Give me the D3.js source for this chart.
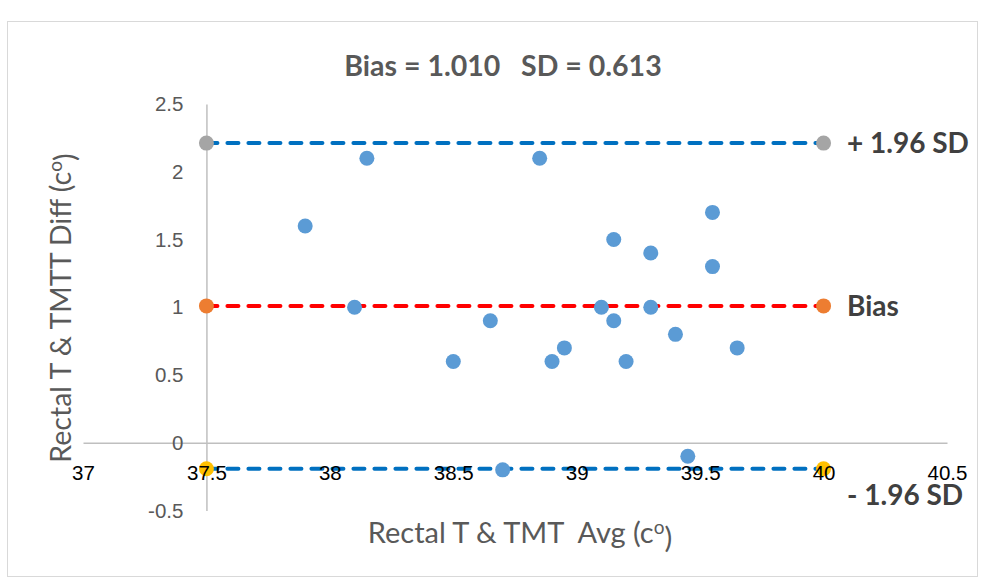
<!DOCTYPE html>
<html lang="en">
<head>
<meta charset="utf-8">
<title>Bland-Altman</title>
<script src="https://d3js.org/d3.v7.min.js"></script>
<style>
  body { margin: 0; background: #fff; }
  svg { font-family: Lato, "Open Sans", sans-serif; }
  .ticks text { fill: #595959; }
</style>
</head>
<body>
<div id="viz"></div>
<script>
// data
var avgT  = [37.9, 38.15, 38.85, 38.1, 38.65, 38.5, 38.9, 38.95, 39.15, 39.3,
             39.55, 39.55, 39.1, 39.3, 39.15, 39.2, 39.4, 39.65, 38.7, 39.45];
var diffT = [1.6, 2.1, 2.1, 1.0, 0.9, 0.6, 0.6, 0.7, 1.5, 1.4,
             1.7, 1.3, 1.0, 1.0, 0.9, 0.6, 0.8, 0.7, -0.2, -0.1];
var bias = 1.010, sd = 0.613;
var limitNames  = ["+ 1.96 SD", "Bias", "- 1.96 SD"];
var limitValues = [bias + 1.96 * sd, bias, bias - 1.96 * sd];
var limitFrom = 37.5, limitTo = 40;
var xTicks = [37, 37.5, 38, 38.5, 39, 39.5, 40, 40.5];
var yTicks = [-0.5, 0, 0.5, 1, 1.5, 2, 2.5];

var lineColors   = ["#0070C0", "#FF0000", "#0070C0"];
var markerColors = ["#A5A5A5", "#ED7D31", "#FFC000"];

var W = 985, H = 579;
var svg = d3.select("#viz").append("svg")
    .attr("width", W).attr("height", H);

// chart frame
svg.append("rect")
    .attr("x", 7.5).attr("y", 21.5)
    .attr("width", 970).attr("height", 555)
    .attr("fill", "none").attr("stroke", "#D9D9D9");

var x = d3.scaleLinear().domain([37, 40.5]).range([83, 947]);
var y = d3.scaleLinear().domain([-0.5, 2.5]).range([510.5, 104]);

var fmt = function(d) { return String(d); };
var xAxis = d3.axisBottom(x).tickValues(xTicks).tickSize(0).tickSizeOuter(0)
    .tickPadding(23).tickFormat(fmt);
var yAxis = d3.axisLeft(y).tickValues(yTicks).tickSize(0).tickSizeOuter(0)
    .tickPadding(23).tickFormat(fmt);

// axis lines (under the series)
var lines = svg.append("g");
lines.append("g").attr("transform", "translate(0," + y(0) + ")").call(xAxis)
    .call(function(g) { g.selectAll(".tick").remove(); });
lines.append("g").attr("transform", "translate(" + x(37.5) + ",0)").call(yAxis)
    .call(function(g) { g.selectAll(".tick").remove(); });
lines.selectAll(".domain").attr("stroke", "#BFBFBF").attr("stroke-width", 1.5);

// limit lines
var limits = limitValues.map(function(v, i) {
  return {name: limitNames[i], value: v, line: lineColors[i], marker: markerColors[i]};
});

svg.append("g").selectAll("line").data(limits).enter().append("line")
    .attr("x1", x(limitFrom)).attr("x2", x(limitTo))
    .attr("y1", function(d) { return y(d.value); })
    .attr("y2", function(d) { return y(d.value); })
    .attr("stroke", function(d) { return d.line; })
    .attr("stroke-width", 4)
    .attr("stroke-linecap", "round")
    .attr("stroke-dasharray", "11,10");

var ends = [];
limits.forEach(function(d) {
  ends.push({x: limitFrom, v: d.value, c: d.marker});
  ends.push({x: limitTo, v: d.value, c: d.marker});
});
svg.append("g").selectAll("circle").data(ends).enter().append("circle")
    .attr("cx", function(d) { return x(d.x); })
    .attr("cy", function(d) { return y(d.v); })
    .attr("r", 7.5)
    .attr("fill", function(d) { return d.c; });

// scatter
svg.append("g").selectAll("circle").data(avgT).enter().append("circle")
    .attr("cx", function(d) { return x(d); })
    .attr("cy", function(d, i) { return y(diffT[i]); })
    .attr("r", 7.5)
    .attr("fill", "#5B9BD5");

// tick labels on top
var labs = svg.append("g");
var gx = labs.append("g").attr("class", "ticks")
    .attr("transform", "translate(0," + y(0) + ")").call(xAxis);
gx.selectAll("text").style("fill", "#000");
var gy = labs.append("g").attr("class", "ticks")
    .attr("transform", "translate(" + x(37.5) + ",0)").call(yAxis);
labs.selectAll(".domain").remove();
labs.selectAll("text").attr("font-family", null).attr("font-size", null).style("font-size", "20.5px");

// limit names on the right
svg.append("g").selectAll("text").data(limits).enter().append("text")
    .attr("x", 847)
    .attr("y", function(d, i) { return i == 2 ? y(d.value) + 27 : y(d.value); })
    .attr("dy", "0.35em")
    .style("font-size", "28px").style("font-weight", "bold")
    .style("fill", "#404040")
    .text(function(d) { return d.name; });

// title
svg.append("text")
    .attr("x", 503).attr("y", 66).attr("dy", "0.35em")
    .attr("text-anchor", "middle")
    .style("white-space", "pre")
    .style("font-size", "28.5px").style("font-weight", "bold")
    .style("fill", "#595959")
    .text("Bias = 1.010   SD = 0.613");

// axis titles
var xt = svg.append("text")
    .attr("x", 520).attr("y", 543)
    .attr("text-anchor", "middle")
    .style("white-space", "pre")
    .style("font-size", "29px").style("fill", "#595959");
xt.append("tspan").text("Rectal T & TMT  Avg (c");
xt.append("tspan").attr("dy", "-0.45em").style("font-size", "19px").text("o");
xt.append("tspan").attr("dy", "0.45em").text(")");

var yt = svg.append("text")
    .attr("transform", "translate(71,308) rotate(-90)")
    .attr("text-anchor", "middle")
    .style("font-size", "28.5px").style("fill", "#595959");
yt.append("tspan").text("Rectal T & TMTT Diff (c");
yt.append("tspan").attr("dy", "-0.45em").style("font-size", "19px").text("o");
yt.append("tspan").attr("dy", "0.45em").text(")");
</script>
</body>
</html>
